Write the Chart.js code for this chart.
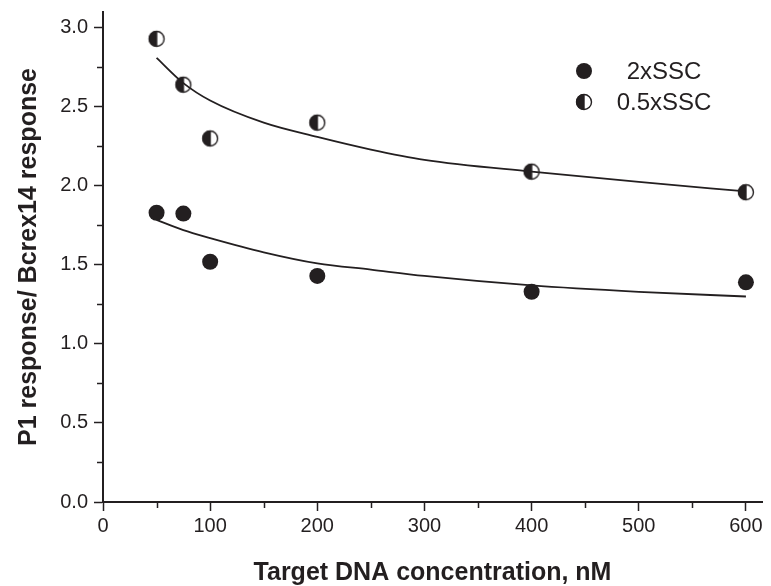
<!DOCTYPE html>
<html>
<head>
<meta charset="utf-8">
<script src="https://cdn.jsdelivr.net/npm/chart.js@4/dist/chart.umd.min.js"></script>
<style>
  html, body { margin: 0; padding: 0; background: #fff; }
  #wrap { width: 771px; height: 586px; }
</style>
</head>
<body>
<div id="wrap"><canvas id="chart" width="771" height="586"></canvas></div>
<script>
// Measured points (target DNA concentration, nM)
const concentrations = [50, 75, 100, 200, 400, 600];
const ssc2x = [1.83, 1.825, 1.52, 1.43, 1.33, 1.39];
const ssc05x = [2.93, 2.64, 2.30, 2.40, 2.09, 1.96];

// Fitted curves at these x positions
const fitX = [50, 75, 100, 150, 200, 250, 300, 400, 500, 600];
const fit2x = [1.785, 1.72, 1.67, 1.58, 1.51, 1.47, 1.43, 1.37, 1.33, 1.30];
const fit05x = [2.81, 2.65, 2.54, 2.40, 2.31, 2.23, 2.165, 2.09, 2.025, 1.965];

// Axis ticks
const xTicks = [0, 100, 200, 300, 400, 500, 600];
const xMinorTicks = [50, 150, 250, 350, 450, 550];
const yTicks = [0, 0.5, 1.0, 1.5, 2.0, 2.5, 3.0];
const yMinorTicks = [0.25, 0.75, 1.25, 1.75, 2.25, 2.75];

const INK = '#231f20';
const FONT = 'Liberation Sans, Arial, Helvetica, sans-serif';

function toXY(xs, ys) {
  return xs.map(function(x, i) { return { x: x, y: ys[i] }; });
}

// Half-filled marker: left half black, right half white
function makeHalfMarker(r) {
  var size = r * 2 + 4;
  var c = document.createElement('canvas');
  c.width = size; c.height = size;
  var g = c.getContext('2d');
  var cx = size / 2, cy = size / 2;
  g.fillStyle = '#fff';
  g.beginPath(); g.arc(cx, cy, r, 0, Math.PI * 2); g.fill();
  g.fillStyle = INK;
  g.beginPath(); g.arc(cx, cy, r, Math.PI / 2, Math.PI * 1.5); g.closePath(); g.fill();
  g.strokeStyle = INK; g.lineWidth = 1.4;
  g.beginPath(); g.arc(cx, cy, r - 0.5, 0, Math.PI * 2); g.stroke();
  g.beginPath(); g.moveTo(cx, cy - r); g.lineTo(cx, cy + r); g.stroke();
  return c;
}
var halfMarker = makeHalfMarker(8);

function drawMarker(ctx, style, x, y) {
  if (style === 'circle') {
    ctx.fillStyle = INK;
    ctx.beginPath(); ctx.arc(x, y, 8, 0, Math.PI * 2); ctx.fill();
  } else {
    ctx.drawImage(style, x - style.width / 2, y - style.height / 2);
  }
}

// minor ticks, shorter than the major ones
var minorTicksPlugin = {
  id: 'minorTicks',
  afterDraw: function(chart) {
    var ctx = chart.ctx, xs = chart.scales.x, ys = chart.scales.y;
    var area = chart.chartArea;
    ctx.save();
    ctx.strokeStyle = INK;
    ctx.lineWidth = 1.5;
    xMinorTicks.forEach(function(v) {
      var px = Math.round(xs.getPixelForValue(v)) + 0.5;
      ctx.beginPath(); ctx.moveTo(px, area.bottom); ctx.lineTo(px, area.bottom + 6); ctx.stroke();
    });
    yMinorTicks.forEach(function(v) {
      var py = Math.round(ys.getPixelForValue(v)) + 0.5;
      ctx.beginPath(); ctx.moveTo(area.left, py); ctx.lineTo(area.left - 6, py); ctx.stroke();
    });
    ctx.restore();
  }
};

// legend inside the plot, top right
var insideLegendPlugin = {
  id: 'insideLegend',
  afterDraw: function(chart) {
    var ctx = chart.ctx, area = chart.chartArea;
    var items = chart.data.datasets.filter(function(d) { return !d.fit; });
    ctx.save();
    ctx.font = '24px ' + FONT;
    ctx.fillStyle = INK;
    ctx.textAlign = 'center';
    ctx.textBaseline = 'middle';
    items.forEach(function(d, i) {
      var y = area.top + 59 + i * 31;
      drawMarker(ctx, d.pointStyle, area.right - 178, y);
      ctx.fillStyle = INK;
      ctx.fillText(d.label, area.right - 98, y + 1);
    });
    ctx.restore();
  }
};

new Chart(document.getElementById('chart').getContext('2d'), {
  type: 'scatter',
  plugins: [minorTicksPlugin, insideLegendPlugin],
  data: {
    datasets: [
      {
        label: 'fit 2xSSC', fit: true, type: 'line',
        data: toXY(fitX, fit2x),
        borderColor: INK, borderWidth: 1.8, pointRadius: 0,
        cubicInterpolationMode: 'monotone', fill: false, order: 0
      },
      {
        label: 'fit 0.5xSSC', fit: true, type: 'line',
        data: toXY(fitX, fit05x),
        borderColor: INK, borderWidth: 1.8, pointRadius: 0,
        cubicInterpolationMode: 'monotone', fill: false, order: 0
      },
      {
        label: '2xSSC',
        data: toXY(concentrations, ssc2x),
        pointStyle: 'circle', pointRadius: 8,
        backgroundColor: INK, borderColor: INK, borderWidth: 0,
        showLine: false, order: 1
      },
      {
        label: '0.5xSSC',
        data: toXY(concentrations, ssc05x),
        pointStyle: halfMarker, pointRadius: 8,
        showLine: false, order: 1
      }
    ]
  },
  options: {
    responsive: false,
    animation: false,
    layout: { padding: { top: 12, right: 1, left: 0, bottom: 0 } },
    scales: {
      x: {
        type: 'linear', min: 0, max: 615,
        afterBuildTicks: function(scale) { scale.ticks = xTicks.map(function(v) { return { value: v }; }); },
        afterFit: function(scale) { scale.height = 84; scale.paddingLeft = 0; scale.paddingRight = 0; },
        border: { color: INK, width: 2 },
        grid: { drawOnChartArea: false, tickLength: 9, tickColor: INK, tickWidth: 1.5 },
        ticks: { color: INK, padding: 3, font: { family: FONT, size: 20 }, maxRotation: 0 },
        title: {
          display: true, text: 'Target DNA concentration, nM', color: INK,
          font: { family: FONT, size: 25, weight: 'bold', lineHeight: 1 }, padding: { top: 0, bottom: 0 }
        }
      },
      y: {
        type: 'linear', min: 0, max: 3.1,
        afterBuildTicks: function(scale) { scale.ticks = yTicks.map(function(v) { return { value: v }; }); },
        afterFit: function(scale) { scale.width = 103; scale.paddingTop = 0; scale.paddingBottom = 0; },
        border: { color: INK, width: 2 },
        grid: { drawOnChartArea: false, tickLength: 9, tickColor: INK, tickWidth: 1.5 },
        ticks: {
          color: INK, padding: 6, font: { family: FONT, size: 20 },
          callback: function(v) { return Number(v).toFixed(1); }
        },
        title: {
          display: true, text: 'P1 response/ Bcrex14 response', color: INK,
          font: { family: FONT, size: 25, weight: 'bold', lineHeight: 1 }, padding: { top: 17, bottom: 0 }
        }
      }
    },
    plugins: {
      legend: { display: false },
      tooltip: { enabled: false }
    }
  }
});
</script>
</body>
</html>
